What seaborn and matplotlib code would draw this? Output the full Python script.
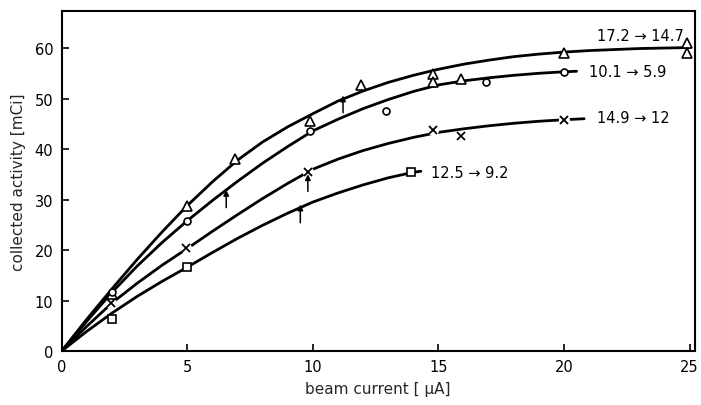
import matplotlib
matplotlib.use("Agg")
import matplotlib.pyplot as plt
import numpy as np
import pandas as pd
import seaborn as sns

sns.set_theme(style="ticks")
plt.rcParams["font.family"] = ["DejaVu Sans"]

# curves (beam current in uA, activity in mCi)
curve_x = [0, 1, 2, 3, 4, 5, 6, 7, 8, 9, 10, 11, 12, 13, 14, 15, 16, 17, 18, 19, 20, 21, 22, 23, 24, 25]
tri_curve = [0, 6.3, 12.3, 18.1, 23.6, 28.8, 33.5, 37.8, 41.4, 44.4, 47.0, 49.5, 51.5, 53.2, 54.6,
             55.8, 56.8, 57.6, 58.3, 58.8, 59.2, 59.5, 59.7, 59.9, 60.0, 60.1]
circ_curve_x = [0, 1, 2, 3, 4, 5, 6, 7, 8, 9, 10, 11, 12, 13, 14, 15, 16, 17, 18, 19, 20, 20.5]
circ_curve = [0, 5.9, 11.6, 16.8, 21.5, 25.8, 29.8, 33.6, 37.2, 40.5, 43.6, 45.9, 48.0, 49.8, 51.4,
              52.7, 53.5, 54.1, 54.6, 55.0, 55.3, 55.4]
cross_curve_x = [0, 1, 2, 3, 4, 5, 6, 7, 8, 9, 10, 11, 12, 13, 14, 15, 16, 17, 18, 19, 20, 20.8]
cross_curve = [0, 4.9, 9.5, 13.4, 17.0, 20.3, 23.7, 27.0, 30.2, 33.2, 36.0, 38.0, 39.7, 41.1, 42.3,
               43.3, 44.0, 44.6, 45.1, 45.5, 45.8, 46.0]
sq_curve_x = [0, 1, 2, 3, 4, 5, 6, 7, 8, 9, 10, 11, 12, 13, 14, 14.3]
sq_curve = [0, 3.9, 7.5, 10.8, 13.8, 16.6, 19.5, 22.3, 24.9, 27.3, 29.5, 31.3, 32.9, 34.3, 35.4, 35.6]

# measured points
tri_x = [2, 5, 6.9, 9.9, 11.9, 14.8, 14.8, 15.9, 20, 24.9, 24.9]
tri_y = [11.3, 28.8, 38.0, 45.6, 52.6, 54.9, 53.3, 53.9, 59.0, 61.0, 59.0]
circ_x = [2, 5, 9.9, 12.9, 16.9, 20]
circ_y = [11.6, 25.7, 43.6, 47.6, 53.3, 55.3]
cross_x = [1.95, 4.95, 9.8, 14.8, 15.9, 20]
cross_y = [9.5, 20.3, 35.4, 43.7, 42.6, 45.7]
sq_x = [2, 5, 13.9]
sq_y = [6.3, 16.6, 35.4]

# small vertical arrows
arrow_x = [6.55, 9.5, 9.8, 11.2]
arrow_tail = [28.4, 25.4, 31.6, 47.2]
arrow_tip = [31.9, 29.0, 35.0, 50.6]

labels = ["17.2 \u2192 14.7", "10.1 \u2192 5.9", "14.9 \u2192 12", "12.5 \u2192 9.2"]
label_x = [21.3, 21.0, 21.3, 14.7]
label_y = [62.4, 55.4, 46.3, 35.4]

curves = pd.concat([
    pd.DataFrame({"current": curve_x, "activity": tri_curve, "run": "tri"}),
    pd.DataFrame({"current": circ_curve_x, "activity": circ_curve, "run": "circ"}),
    pd.DataFrame({"current": cross_curve_x, "activity": cross_curve, "run": "cross"}),
    pd.DataFrame({"current": sq_curve_x, "activity": sq_curve, "run": "sq"}),
])

fig = plt.figure(figsize=(7.01, 4.06), dpi=100)
ax = fig.add_axes([0.088, 0.133, 0.903, 0.837])

sns.lineplot(data=curves, x="current", y="activity", units="run", estimator=None,
             sort=False, color="black", linewidth=2.0, ax=ax, zorder=2)

pts = [(tri_x, tri_y, "^", 6.5), (circ_x, circ_y, "o", 5), (sq_x, sq_y, "s", 5.5)]
for xs, ys, m, s in pts:
    ax.plot(xs, ys, linestyle="none", marker=m, markersize=s, markerfacecolor="white",
            markeredgecolor="black", markeredgewidth=1.2, zorder=4)
# crosses with white halo so the line looks broken
ax.plot(cross_x, cross_y, linestyle="none", marker="o", markersize=7, markerfacecolor="white",
        markeredgecolor="white", zorder=3)
ax.plot(cross_x, cross_y, linestyle="none", marker="x", markersize=6, markeredgecolor="black",
        markeredgewidth=1.3, zorder=4)

for x, t0, t1 in zip(arrow_x, arrow_tail, arrow_tip):
    ax.annotate("", xy=(x, t1), xytext=(x, t0),
                arrowprops=dict(arrowstyle="-|>", color="black", lw=1.1, mutation_scale=8,
                                shrinkA=0, shrinkB=0), zorder=5)

for txt, x, y in zip(labels, label_x, label_y):
    ax.text(x, y, txt, fontsize=10.5, va="center", ha="left", color="black")

ax.set_xlim(0, 25.2)
ax.set_ylim(0, 67.3)
ax.set_xticks([0, 5, 10, 15, 20, 25])
ax.set_yticks([0, 10, 20, 30, 40, 50, 60])
ax.tick_params(direction="in", length=5, width=1.2, labelsize=10.5, colors="black", pad=6)
for sp in ax.spines.values():
    sp.set_visible(True)
    sp.set_linewidth(1.5)
    sp.set_color("black")
ax.set_xlabel("beam current [ \u03bcA]", fontsize=11, labelpad=5)
ax.set_ylabel("collected activity [mCi]", fontsize=11, labelpad=6)

fig.savefig("out.png", dpi=100)
plt.close(fig)
